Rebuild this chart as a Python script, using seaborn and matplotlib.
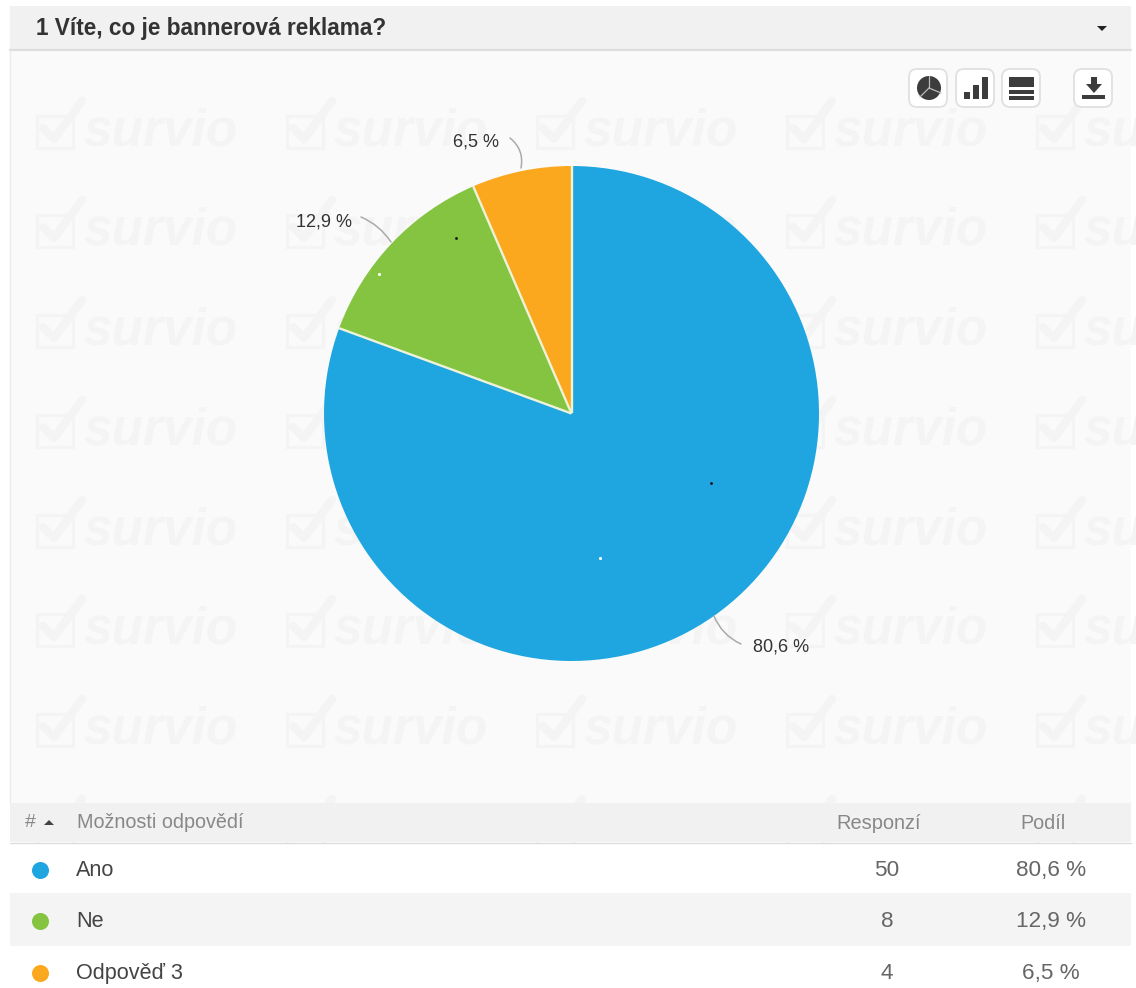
import matplotlib
matplotlib.use("Agg")
import matplotlib.pyplot as plt
import numpy as np
import seaborn as sns
from matplotlib.patches import Rectangle, FancyBboxPatch, Circle, Polygon
from matplotlib.patches import FancyArrowPatch

categories = ["Ano", "Ne", "Odpověď 3"]
responses = [50, 8, 4]
shares = [80.6, 12.9, 6.5]
share_labels = ["80,6 %", "12,9 %", "6,5 %"]
title = "1 Víte, co je bannerová reklama?"
col_headers = ["#", "Možnosti odpovědí", "Responzí", "Podíl"]
watermark = "survio"
palette = ["#1fa6e0", "#84c441", "#fca81f"]

sns.set_theme(style="white")
plt.rcParams["font.family"] = ["Liberation Sans", "DejaVu Sans"]

W, H = 1136, 988
R = 1131
fig = plt.figure(figsize=(W / 100, H / 100), dpi=100, facecolor="white")

bg = fig.add_axes([0, 0, 1, 1], zorder=0)
bg.set_xlim(0, W); bg.set_ylim(H, 0); bg.axis("off")

# panel and header
panel = Rectangle((10, 6), R - 10, 800, fc="#fafafa", ec="none")
bg.add_patch(panel)
bg.add_patch(Rectangle((10, 6), R - 10, 44, fc="#f1f1f1", ec="none", zorder=3))
bg.plot([10, R], [50.5, 50.5], color="#dedede", lw=1.6, zorder=3)
bg.plot([10, 10], [6, 803], color="#ececec", lw=1)
bg.text(36, 28.5, title, fontsize=16.3, fontweight="bold", color="#333333", va="center", ha="left", zorder=4)
bg.add_patch(Polygon([[1097, 26], [1107, 26], [1102, 31]], fc="#222222", ec="none", zorder=4))

# watermark
wm = "#f4f4f4"
for y in [130, 229, 329, 429, 529, 628, 728, 828]:
    for x in [35, 285, 535, 785, 1035]:
        if y < 800:
            t = bg.text(x + 48, y + 2, watermark, fontsize=37, fontweight="bold", style="italic",
                        color=wm, va="center", ha="left", zorder=1)
            t.set_clip_path(panel)
        bg.add_patch(Rectangle((x + 2, y - 14), 36, 32, fc="none", ec=wm, lw=2.2, zorder=1))
        bg.plot([x + 8, x + 19, x + 47], [y - 2, y + 9, y - 29], color=wm, lw=6, zorder=1,
                solid_capstyle="round")

# table
bg.add_patch(Rectangle((10, 803), R - 10, 39, fc="#f1f1f1", ec="none", zorder=2))
bg.plot([10, R], [842.5, 842.5], color="#dcdcdc", lw=1, zorder=3)
bg.add_patch(Rectangle((10, 843), R - 10, 50, fc="white", ec="none", zorder=2))
bg.add_patch(Rectangle((10, 893), R - 10, 53, fc="#f4f4f4", ec="none", zorder=2))
bg.add_patch(Rectangle((10, 946), R - 10, 42, fc="white", ec="none", zorder=2))
bg.text(25, 822, col_headers[0], fontsize=14, color="#888888", va="center", zorder=4)
bg.add_patch(Polygon([[44, 825], [54, 825], [49, 820]], fc="#444444", ec="none", zorder=4))
bg.text(77, 822, col_headers[1], fontsize=14.2, color="#888888", va="center", zorder=4)
bg.text(879, 823, col_headers[2], fontsize=14.4, color="#888888", va="center", ha="center", zorder=4)
bg.text(1043, 823, col_headers[3], fontsize=14.2, color="#888888", va="center", ha="center", zorder=4)
row_y = [870, 921, 973]
for y, c, n, s, col in zip(row_y, categories, responses, share_labels, palette):
    bg.scatter([40], [y], s=150, color=col, linewidths=0, zorder=4)
    bg.text(76, y, c, fontsize=15.6, color="#444444", va="center", zorder=4)
    bg.text(887, y, str(n), fontsize=16.2, color="#666666", va="center", ha="center", zorder=4)
    bg.text(1051, y, s, fontsize=16.2, color="#666666", va="center", ha="center", zorder=4)

# pie
pie_ax = fig.add_axes([324 / W, (H - 661) / H, 495 / W, 495 / H], zorder=5)
wedges, _ = pie_ax.pie(shares, colors=palette, startangle=90, counterclock=False, radius=1,
                       wedgeprops=dict(edgecolor="none", linewidth=0))
for w in wedges:
    a = np.deg2rad(w.theta2)
    pie_ax.plot([0, np.cos(a)], [0, np.sin(a)], color="#eef3d8", lw=1.7, solid_capstyle="butt")
pie_ax.set_xlim(-1, 1); pie_ax.set_ylim(-1, 1)
pie_ax.patch.set_alpha(0)

# overlay
ov = fig.add_axes([0, 0, 1, 1], zorder=6)
ov.set_xlim(0, W); ov.set_ylim(H, 0); ov.axis("off"); ov.patch.set_alpha(0)
label_pos = [(781, 647), (324, 222), (476, 142)]
for (x, y), s in zip(label_pos, share_labels):
    ov.text(x, y, s, fontsize=13, color="#333333", ha="center", va="center")
leaders = [((714, 616), (741, 644), 0.2), ((361, 217), (391, 242), -0.15), ((510, 138), (521, 168), -0.3)]
for a, b, rad in leaders:
    ov.add_patch(FancyArrowPatch(a, b, arrowstyle="-", connectionstyle=f"arc3,rad={rad}",
                                 color="#aaaaaa", lw=1.1, shrinkA=0, shrinkB=0))
ov.scatter([456, 711], [238, 483], s=4, color="#111111", linewidths=0)
ov.scatter([379, 600], [274, 558], s=5, color="white", linewidths=0)

# toolbar
dark = "#3c3c3c"
for x in [909, 956, 1002, 1074]:
    ov.add_patch(FancyBboxPatch((x, 69), 38, 38, boxstyle="round,pad=0,rounding_size=8",
                                fc="white", ec="#e2e2e2", lw=1.4))
ov.add_patch(Circle((929, 88), 12, fc=dark, ec="none"))
ov.plot([929, 929], [76, 88], color="#bbbbbb", lw=0.9)
ov.plot([929, 941], [88, 93], color="#bbbbbb", lw=0.9)
ov.plot([929, 920], [88, 97], color="#bbbbbb", lw=0.9)
for x, top in zip([964, 973, 982], [92, 85, 77]):
    ov.add_patch(Rectangle((x, top), 5.5, 99 - top, fc=dark, ec="none"))
ov.add_patch(Rectangle((1009, 77), 25, 10, fc=dark, ec="none"))
ov.add_patch(Rectangle((1009, 90), 25, 4, fc=dark, ec="none"))
ov.add_patch(Rectangle((1009, 96.5), 25, 4, fc=dark, ec="none"))
ov.add_patch(Polygon([[1091, 77], [1097, 77], [1097, 84], [1102, 84], [1094, 93], [1086, 84], [1091, 84]],
                     fc=dark, ec="none"))
ov.add_patch(Rectangle((1082, 95), 23, 4, fc=dark, ec="none"))

fig.savefig("out.png", dpi=100)
